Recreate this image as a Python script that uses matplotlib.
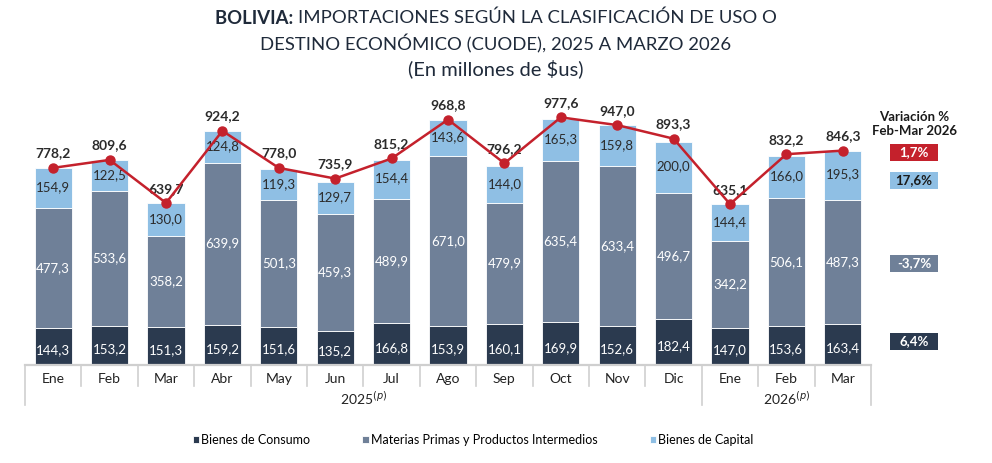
import matplotlib
matplotlib.use("Agg")
import matplotlib.pyplot as plt
from matplotlib.patches import Rectangle
import numpy as np

plt.rcParams['font.family'] = ['Lato', 'DejaVu Sans']

months = ["Ene", "Feb", "Mar", "Abr", "May", "Jun", "Jul", "Ago", "Sep", "Oct", "Nov", "Dic", "Ene", "Feb", "Mar"]
years = [r"2025$^{(p)}$", r"2026$^{(p)}$"]
consumo = [144.3, 153.2, 151.3, 159.2, 151.6, 135.2, 166.8, 153.9, 160.1, 169.9, 152.6, 182.4, 147.0, 153.6, 163.4]
materias = [477.3, 533.6, 358.2, 639.9, 501.3, 459.3, 489.9, 671.0, 479.9, 635.4, 633.4, 496.7, 342.2, 506.1, 487.3]
capital = [154.9, 122.5, 130.0, 124.8, 119.3, 129.7, 154.4, 143.6, 144.0, 165.3, 159.8, 200.0, 144.4, 166.0, 195.3]
totals = [778.2, 809.6, 639.7, 924.2, 778.0, 735.9, 815.2, 968.8, 796.2, 977.6, 947.0, 893.3, 635.1, 832.2, 846.3]
series_names = ["Bienes de Consumo", "Materias Primas y Productos Intermedios", "Bienes de Capital"]
variation_labels = ["1,7%", "17,6%", "-3,7%", "6,4%"]

c_cons = "#2b3a4f"
c_mat = "#6f8098"
c_cap = "#8fbfe4"
c_line = "#c4212c"
tcol = "#1f2a3a"

def fmt(v):
    return f"{v:.1f}".replace(".", ",")

fig = plt.figure(figsize=(9.92, 4.63), dpi=100)
ax = fig.add_axes([25/992, (463-365)/463, 846/992, 266/463])
x = np.arange(len(months))
w = 0.66
ax.bar(x, consumo, w, color=c_cons, edgecolor="white", linewidth=0.6, label=series_names[0])
ax.bar(x, materias, w, bottom=consumo, color=c_mat, edgecolor="white", linewidth=0.6, label=series_names[1])
b2 = np.array(consumo) + np.array(materias)
ax.bar(x, capital, w, bottom=b2, color=c_cap, edgecolor="white", linewidth=0.6, label=series_names[2])
ax.plot(x, totals, color=c_line, lw=1.8, marker="o", ms=6.5, zorder=5)

for i in x:
    ax.text(i, consumo[i] * 0.4, fmt(consumo[i]), ha="center", va="center", color="white", fontsize=9.5)
    ax.text(i, consumo[i] + materias[i] / 2, fmt(materias[i]), ha="center", va="center", color="white", fontsize=9.5)
    ax.text(i, b2[i] + capital[i] * 0.52, fmt(capital[i]), ha="center", va="center", color="#2b2b2b", fontsize=9.5)
    ax.annotate(fmt(totals[i]), (i, totals[i]), xytext=(0, 6), textcoords="offset points",
                ha="center", va="bottom", fontsize=10, fontweight="bold", color="#2b2b2b")

ax.set_xlim(-0.5, 14.5)
ax.set_ylim(0, 1050)
ax.axis("off")

# category axis
trans = ax.get_xaxis_transform()
gray = "#cfcfcf"
ax.plot([-0.5, 14.5], [0, 0], color=gray, lw=1.6, transform=trans, clip_on=False)
px = 1 / 266
for k in range(16):
    xb = -0.5 + k
    long = k in (0, 12, 15)
    y_end = -40 * px if long else -21 * px
    ax.plot([xb, xb], [0, y_end], color=gray, lw=1.2, transform=trans, clip_on=False)
for i, m in enumerate(months):
    ax.text(i, -14 * px, m, ha="center", va="center", fontsize=10, color="#222222", transform=trans)
ax.text(5.5, -33 * px, years[0], ha="center", va="center", fontsize=10, color="#222222", transform=trans)
ax.text(13, -33 * px, years[1], ha="center", va="center", fontsize=10, color="#222222", transform=trans)

# title (bold part + regular part, centred together)
renderer = fig.canvas.get_renderer()
t1 = fig.text(0, 1 - 18/463, "BOLIVIA: ", ha="left", va="center", fontsize=13.3, fontweight="bold", color=tcol)
t2 = fig.text(0, 1 - 18/463, "IMPORTACIONES SEGÚN LA CLASIFICACIÓN DE USO O", ha="left", va="center",
              fontsize=13.3, color=tcol)
w1 = t1.get_window_extent(renderer).width / 992
w2 = t2.get_window_extent(renderer).width / 992
x0 = 0.5 - (w1 + w2) / 2
t1.set_x(x0)
t2.set_x(x0 + w1)
fig.text(0.5, 1 - 44/463, "DESTINO ECONÓMICO (CUODE), 2025 A MARZO 2026", ha="center", va="center",
         fontsize=13.3, color=tcol)
fig.text(0.5, 1 - 69/463, "(En millones de $us)", ha="center", va="center", fontsize=14.5, color=tcol)

# variation panel
fig.text(914/992, 1 - 124/463, "Variación %\nFeb-Mar 2026", ha="center", va="center", fontsize=9.5,
         fontweight="bold", color="#1a1a1a", linespacing=1.2)
boxes = [(152, c_line, "white"), (180, c_cap, "#1a1a1a"), (263, c_mat, "white"), (341, c_cons, "white")]
for (yc, col, tc), lab in zip(boxes, variation_labels):
    fig.patches.append(Rectangle((890/992, 1 - (yc + 8.5)/463), 48/992, 17/463, transform=fig.transFigure,
                                 facecolor=col, edgecolor="none"))
    fig.text(914/992, 1 - yc/463, lab, ha="center", va="center", fontsize=9.5, fontweight="bold", color=tc)

h, l = ax.get_legend_handles_labels()
fig.legend(h, l, loc="center", bbox_to_anchor=(473/992, 1 - 440/463), ncol=3, frameon=False, fontsize=9,
           handlelength=0.5, handleheight=0.5, handletextpad=0.15, columnspacing=4.2)

fig.savefig("out.png", dpi=100)
